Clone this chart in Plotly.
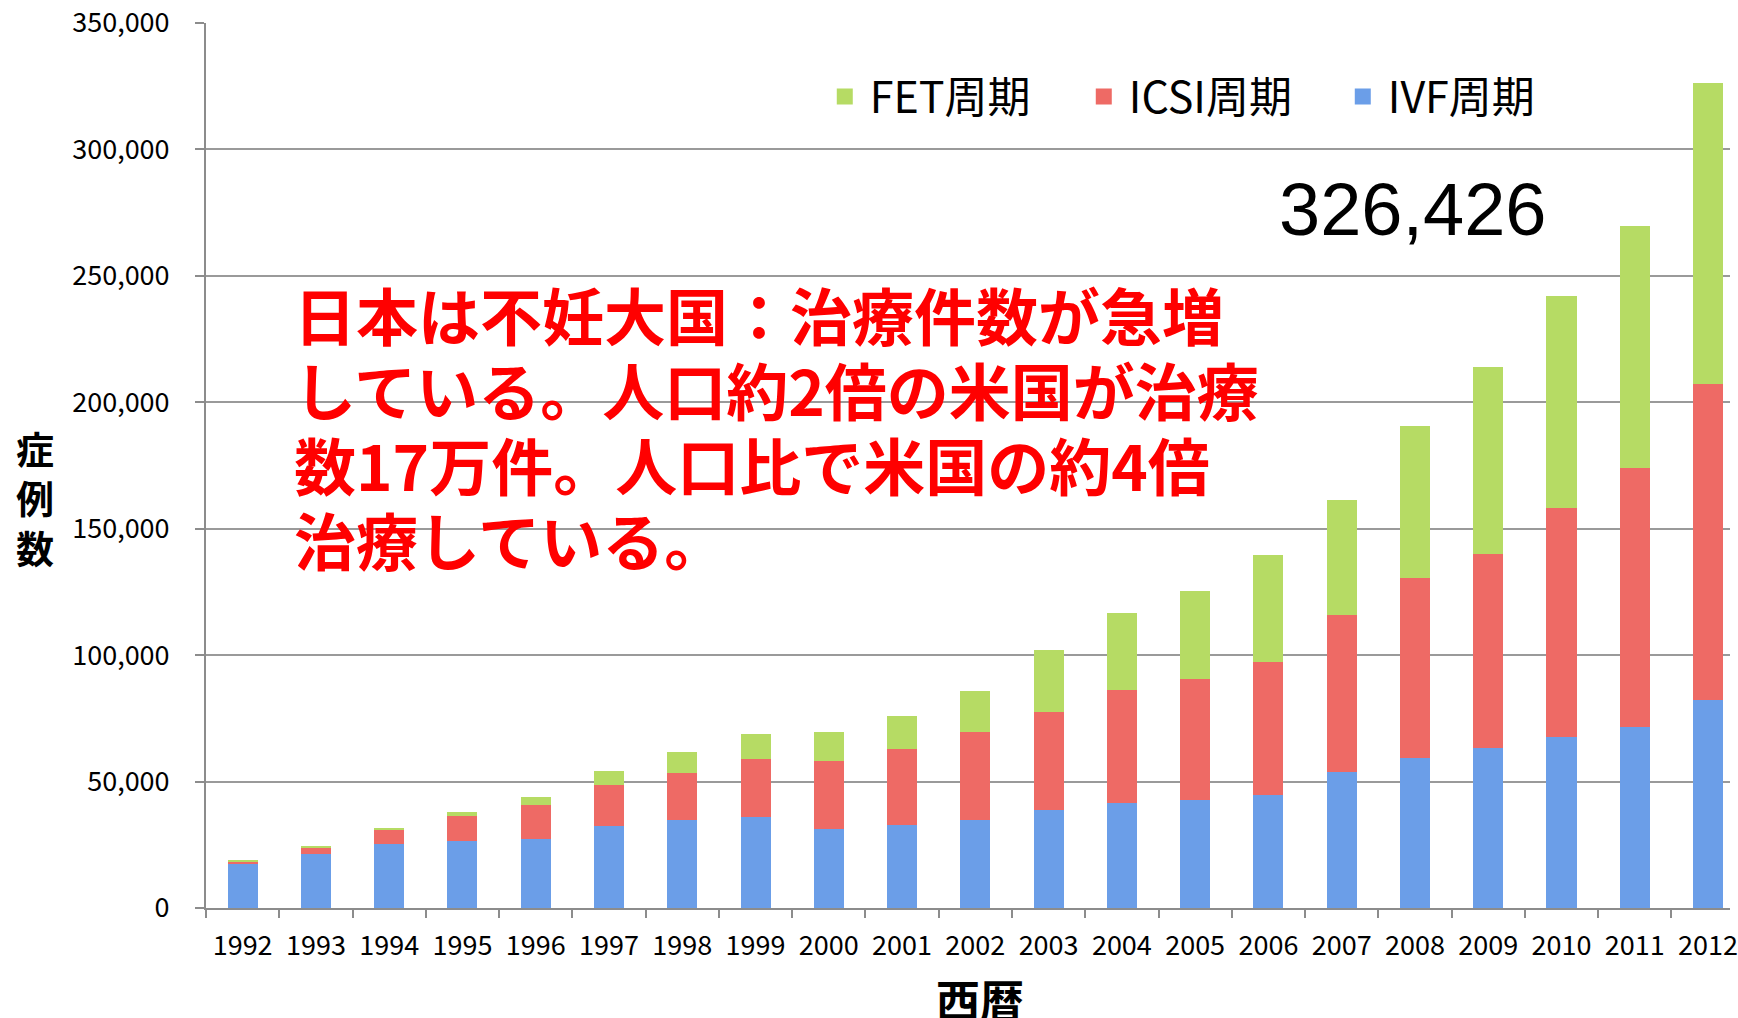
import plotly.graph_objects as go

years = [str(y) for y in range(1992, 2013)]
ivf = [17404, 21287, 25157, 26648, 27338, 32247, 34929, 36085, 31334, 32676, 34953,
       38575, 41619, 42822, 44778, 53873, 59148, 63083, 67714, 71422, 82108]
icsi = [963, 2608, 5510, 9820, 13438, 16573, 18657, 22908, 26712, 30369, 34824,
        38871, 44698, 47579, 52539, 61813, 71350, 76790, 90677, 102473, 125229]
fet = [372, 400, 1121, 1682, 3248, 5208, 8132, 9703, 11653, 13034, 15887,
       24459, 30287, 35069, 42171, 45478, 60115, 73927, 83770, 95764, 119089]
y_ticks = [0, 50000, 100000, 150000, 200000, 250000, 300000, 350000]
series_names = ["IVF周期", "ICSI周期", "FET周期"]
series_colors = ["#6b9ee8", "#ee6a65", "#b6db64"]
total_label = f"{ivf[-1] + icsi[-1] + fet[-1]:,}"
message_lines = [
    "日本は不妊大国：治療件数が急増",
    "している。人口約2倍の米国が治療",
    "数17万件。人口比で米国の約4倍",
    "治療している。",
]

W, H = 1738, 1018
L, R, T, B = 206, 0, 23, 110
PW, PH = W - L - R, H - T - B
font_main = "Noto Sans CJK JP"


def px_x(x):
    return (x - L) / PW


def px_y(y):
    return (H - B - y) / PH


fig = go.Figure()
for name, vals, col in zip(series_names, [ivf, icsi, fet], series_colors):
    fig.add_trace(go.Bar(
        x=years, y=vals, name=name, legendgroup=name, showlegend=False,
        marker=dict(color=col, line=dict(width=0)),
    ))
    # legend entry with a larger square swatch
    fig.add_trace(go.Scatter(
        x=[None], y=[None], mode="markers", name=name, legendgroup=name,
        marker=dict(symbol="square", size=16, color=col),
    ))

fig.update_layout(
    width=W, height=H,
    margin=dict(l=L, r=R, t=T, b=B),
    paper_bgcolor="white", plot_bgcolor="white",
    barmode="stack", bargap=0.59,
    font=dict(family=font_main, color="black"),
    showlegend=True,
    legend=dict(
        orientation="h", traceorder="reversed",
        x=px_x(823), y=px_y(62), xanchor="left", yanchor="top",
        font=dict(size=43, family=font_main, color="black"),
        itemwidth=40, entrywidth=204, entrywidthmode="pixels",
        bgcolor="rgba(0,0,0,0)", tracegroupgap=0,
    ),
    xaxis=dict(
        type="category", range=[-0.5, 20.3],
        showline=True, linecolor="#8c8c8c", linewidth=2,
        ticks="outside", tickson="boundaries", ticklen=8, tickcolor="#8c8c8c", tickwidth=1.5,
        tickfont=dict(size=27, family=font_main, color="black"),
        ticklabelstandoff=13,
        showgrid=False,
    ),
    yaxis=dict(
        range=[0, 350000], tickvals=y_ticks,
        ticktext=[f"{v:,}" for v in y_ticks],
        showline=True, linecolor="#8c8c8c", linewidth=2,
        ticks="outside", ticklen=9, tickcolor="#8c8c8c", tickwidth=1.5,
        tickfont=dict(size=27, family=font_main, color="black"),
        ticklabelstandoff=20,
        showgrid=True, gridcolor="#9a9a9a", gridwidth=1.5,
        zeroline=False,
    ),
)

# x-axis title
fig.add_annotation(
    text="<b>西暦</b>", xref="paper", yref="paper",
    x=px_x(984), y=px_y(999),
    xanchor="center", yanchor="middle", showarrow=False,
    font=dict(size=44, family=font_main, color="black"),
)

# vertical y-axis title
fig.add_annotation(
    text="<b>症<br>例<br>数</b>", xref="paper", yref="paper",
    x=px_x(34), y=px_y(497),
    xanchor="center", yanchor="middle", showarrow=False,
    font=dict(size=38, family=font_main, color="black"),
)

# total value label
fig.add_annotation(
    text=total_label, xref="paper", yref="paper",
    x=px_x(1419), y=px_y(210),
    xanchor="center", yanchor="middle", showarrow=False,
    font=dict(size=74, family="Liberation Sans", color="black"),
)

# red message, one annotation per line
line_y = [314, 389, 464, 539]
for txt, yy in zip(message_lines, line_y):
    fig.add_annotation(
        text=f"<b>{txt}</b>", xref="paper", yref="paper",
        x=px_x(292), y=px_y(yy),
        xanchor="left", yanchor="middle", align="left", showarrow=False,
        font=dict(size=62, family=font_main, color="#ff0000"),
    )

fig.write_html(
    "out.html",
    config={"displayModeBar": False},
    post_script="document.body.style.margin='0px';document.body.style.overflow='hidden';",
)
